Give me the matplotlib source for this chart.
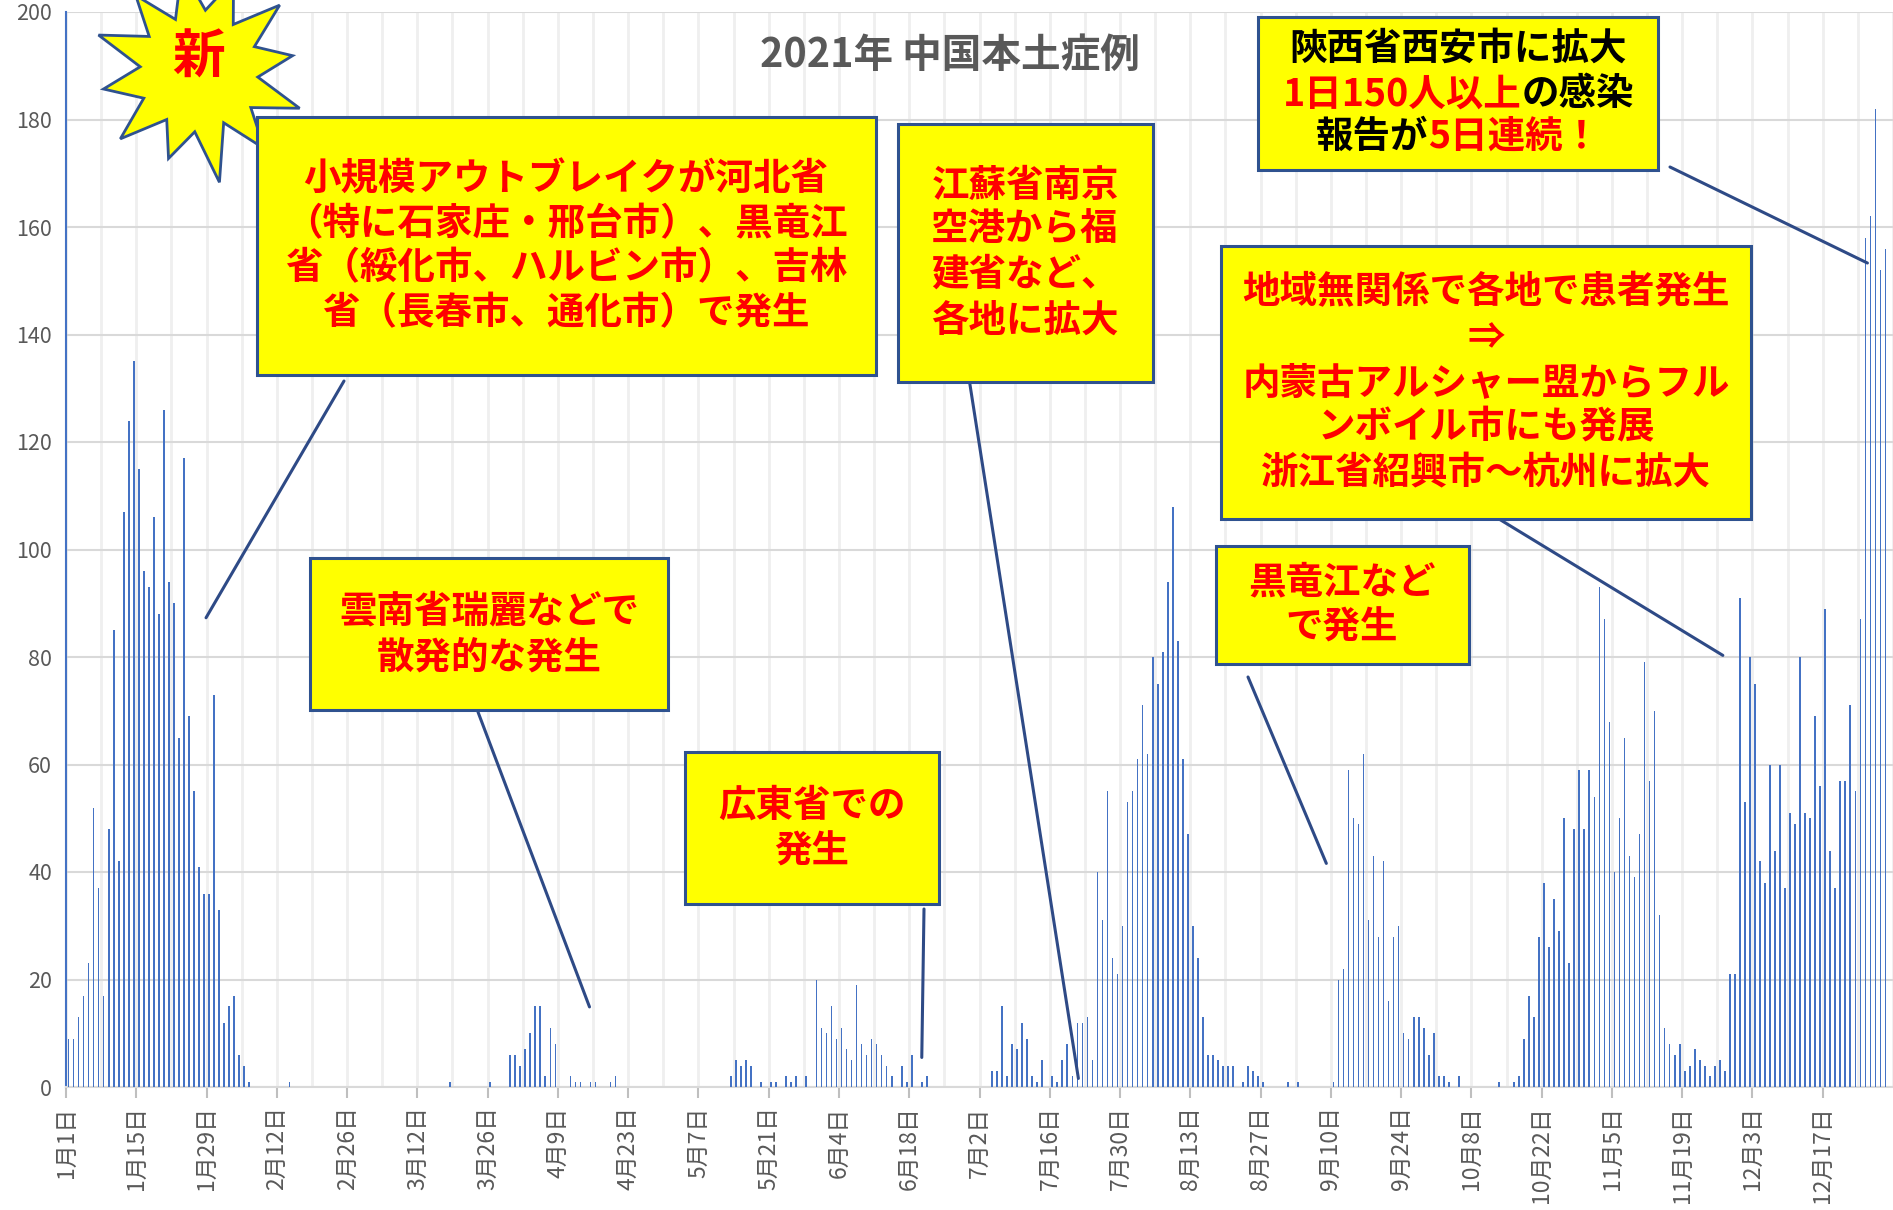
import matplotlib
matplotlib.use('Agg')
import matplotlib.pyplot as plt
from matplotlib.patches import Rectangle, Polygon, ConnectionPatch
import numpy as np

plt.rcParams['font.family'] = ['Noto Sans CJK JP', 'DejaVu Sans']

# ---------------- data: daily domestic cases, 2021 ----------------
jan = [9, 9, 13, 17, 23, 52, 37, 17, 48, 85, 42, 107, 124, 135, 115, 96, 93, 106, 88, 126,
       94, 90, 65, 117, 69, 55, 41, 36, 36, 73, 33]
feb = [12, 15, 17, 6, 4, 1, 0, 0, 0, 0, 0, 0, 0, 1, 0, 0, 0, 0, 0, 0,
       0, 0, 0, 0, 0, 0, 0, 0]
mar = [0, 0, 0, 0, 0, 0, 0, 0, 0, 0, 0, 0, 0, 0, 0, 0, 0, 1, 0, 0,
       0, 0, 0, 0, 0, 1, 0, 0, 0, 6, 6]
apr = [4, 7, 10, 15, 15, 2, 11, 8, 0, 0, 2, 1, 1, 0, 1, 1, 0, 0, 1, 2,
       0, 0, 0, 0, 0, 0, 0, 0, 0, 0]
may = [0, 0, 0, 0, 0, 0, 0, 0, 0, 0, 0, 0, 2, 5, 4, 5, 4, 0, 1, 0,
       1, 1, 0, 2, 1, 2, 0, 2, 0, 20, 11]
jun = [10, 15, 9, 11, 7, 5, 19, 8, 6, 9, 8, 6, 4, 2, 0, 4, 1, 6, 0, 1,
       2, 0, 0, 0, 0, 0, 0, 0, 0, 0]
jul = [0, 0, 0, 3, 3, 15, 2, 8, 7, 12, 9, 2, 1, 5, 0, 2, 1, 5, 8, 2,
       12, 12, 13, 5, 40, 31, 55, 24, 21, 30, 53]
aug = [55, 61, 71, 62, 80, 75, 81, 94, 108, 83, 61, 47, 30, 24, 13, 6, 6, 5, 4, 4,
       4, 0, 1, 4, 3, 2, 1, 0, 0, 0, 0]
sep = [1, 0, 1, 0, 0, 0, 0, 0, 0, 1, 20, 22, 59, 50, 49, 62, 31, 43, 28, 42,
       16, 28, 30, 10, 9, 13, 13, 11, 6, 10]
oct_ = [2, 2, 1, 0, 2, 0, 0, 0, 0, 0, 0, 0, 1, 0, 0, 1, 2, 9, 17, 13,
        28, 38, 26, 35, 29, 50, 23, 48, 59, 48, 59]
nov = [54, 93, 87, 68, 40, 50, 65, 43, 39, 47, 79, 57, 70, 32, 11, 8, 6, 8, 3, 4,
       7, 5, 4, 2, 4, 5, 3, 21, 21, 91]
dec = [53, 80, 75, 42, 38, 60, 44, 60, 37, 51, 49, 80, 51, 50, 69, 56, 89, 44, 37, 57,
       57, 71, 55, 87, 158, 162, 182, 152, 156]

tick_days = [0, 14, 28, 42, 56, 70, 84, 98, 112, 126, 140, 154, 168, 182, 196, 210,
             224, 238, 252, 266, 280, 294, 308, 322, 336, 350]
tick_labels = ['1月1日', '1月15日', '1月29日', '2月12日', '2月26日', '3月12日', '3月26日',
               '4月9日', '4月23日', '5月7日', '5月21日', '6月4日', '6月18日', '7月2日',
               '7月16日', '7月30日', '8月13日', '8月27日', '9月10日', '9月24日', '10月8日',
               '10月22日', '11月5日', '11月19日', '12月3日', '12月17日']

title = '2021年 中国本土症例'

cases = jan + feb + mar + apr + may + jun + jul + aug + sep + oct_ + nov + dec
days = np.arange(len(cases))

# ---------------- figure ----------------
W, H = 1893, 1210
fig = plt.figure(figsize=(W / 100, H / 100), dpi=100)
ax = fig.add_axes([66 / W, 123 / H, 1 - 66 / W, 1075 / H])

ax.bar(days, cases, width=0.34, color='#4472C4', linewidth=0, zorder=3)

ax.set_xlim(-0.5, 362.7)
ax.set_ylim(0, 200)
ax.set_yticks(range(0, 201, 20))
ax.tick_params(axis='y', length=0, labelsize=15.5, labelcolor='#595959', pad=10)

ax.set_xticks([d - 0.5 for d in tick_days])
ax.set_xticklabels(tick_labels, rotation=90, fontsize=16.5, color='#595959')
ax.set_xticks([d - 0.5 for d in range(0, 365, 7)], minor=True)
ax.tick_params(axis='x', which='major', length=8, color='#BFBFBF', width=1.5, pad=6)
ax.tick_params(axis='x', which='minor', length=0)

ax.xaxis.grid(True, which='both', color='#EFEFEF', lw=2)
ax.yaxis.grid(True, color='#D9D9D9', lw=1.5)
ax.set_axisbelow(True)
for s in ['top', 'right']:
    ax.spines[s].set_visible(False)
ax.spines['bottom'].set_color('#D9D9D9')
ax.spines['bottom'].set_linewidth(1.5)
ax.spines['left'].set_color('#4472C4')
ax.spines['left'].set_linewidth(1.5)

fig.text(950 / W, 1 - 55 / H, title, fontsize=28.5, fontweight='bold', color='#595959',
         ha='center', va='center')


def fp(x, y):
    return (x / W, 1 - y / H)


renderer = fig.canvas.get_renderer()
RED = '#FF0000'
BLK = '#000000'
NAVY = '#2F528F'


def box(x0, y0, x1, y1):
    fig.add_artist(Rectangle(fp(x0, y1), (x1 - x0) / W, (y1 - y0) / H,
                             transform=fig.transFigure, facecolor='#FFFF00',
                             edgecolor=NAVY, lw=2.2, zorder=5))


def line_text(cx, cy, segs, size=27):
    texts, widths = [], []
    for s, c in segs:
        t = fig.text(0, 0, s, color=c, fontsize=size, fontweight='bold',
                     ha='left', va='center', zorder=6)
        widths.append(t.get_window_extent(renderer).width)
        texts.append(t)
    x = cx - sum(widths) / 2
    for t, w in zip(texts, widths):
        t.set_position(fp(x, cy))
        x += w


def connector(x, y, day, val):
    con = ConnectionPatch(xyA=fp(x, y), coordsA=fig.transFigure,
                          xyB=(day, val), coordsB=ax.transData,
                          color='#2E4A86', lw=2.2, zorder=4)
    fig.add_artist(con)


# starburst "新"
cx0, cy0 = 200, 72
angles = np.deg2rad(np.linspace(100, 460, 25)[:-1])
radii = [105, 58, 100, 62, 108, 60, 98, 62, 104, 58, 92, 60, 112, 56, 100, 62, 106, 58, 94, 60,
         104, 58, 98, 62]
pts = [fp(cx0 + r * np.cos(a), cy0 - r * np.sin(a)) for r, a in zip(radii, angles)]
fig.add_artist(Polygon(pts, closed=True, transform=fig.transFigure, facecolor='#FFFF00',
                       edgecolor=NAVY, lw=2, zorder=5))
fig.text(*fp(199, 58), '新', fontsize=38, fontweight='bold', color=RED,
         ha='center', va='center', zorder=6)

# box 1
connector(344, 381, 27.4, 87.3)
box(257, 117, 876, 375)
for yy, s in zip([179, 224, 268, 313],
                 ['小規模アウトブレイクが河北省', '（特に石家庄・邢台市）、黒竜江',
                  '省（綏化市、ハルビン市）、吉林', '省（長春市、通化市）で発生']):
    line_text(566, yy, [(s, RED)])

# box 2
connector(968, 372, 201.2, 1.6)
box(898, 124, 1153, 382)
for yy, s in zip([185, 229, 274, 320], ['江蘇省南京', '空港から福', '建省など、', '各地に拡大']):
    line_text(1025, yy, [(s, RED)])

# box 3
connector(1670, 167, 358.4, 153.3)
box(1258, 17, 1658, 170)
line_text(1458, 48, [('陝西省西安市に拡大', BLK)])
line_text(1458, 94, [('1日150人以上', RED), ('の感染', BLK)])
line_text(1458, 136, [('報告が', BLK), ('5日連続！', RED)])

# box 4
connector(1499, 519, 329.6, 80.3)
box(1221, 246, 1751, 519)
for yy, s in zip([292, 338, 383, 427, 472],
                 ['地域無関係で各地で患者発生', '⇒', '内蒙古アルシャー盟からフル',
                  'ンボイル市にも発展', '浙江省紹興市～杭州に拡大']):
    line_text(1486, yy, [(s, RED)])

# box 5
connector(1248, 677, 250.6, 41.6)
box(1216, 546, 1469, 664)
line_text(1342, 582, [('黒竜江など', RED)])
line_text(1342, 627, [('で発生', RED)])

# box 6
connector(478, 712, 103.8, 14.9)
box(310, 558, 668, 710)
line_text(489, 611, [('雲南省瑞麗などで', RED)])
line_text(489, 657, [('散発的な発生', RED)])

# box 7
connector(924, 909, 170.0, 5.5)
box(685, 752, 939, 904)
line_text(812, 805, [('広東省での', RED)])
line_text(812, 851, [('発生', RED)])

fig.savefig('out.png', dpi=100)
